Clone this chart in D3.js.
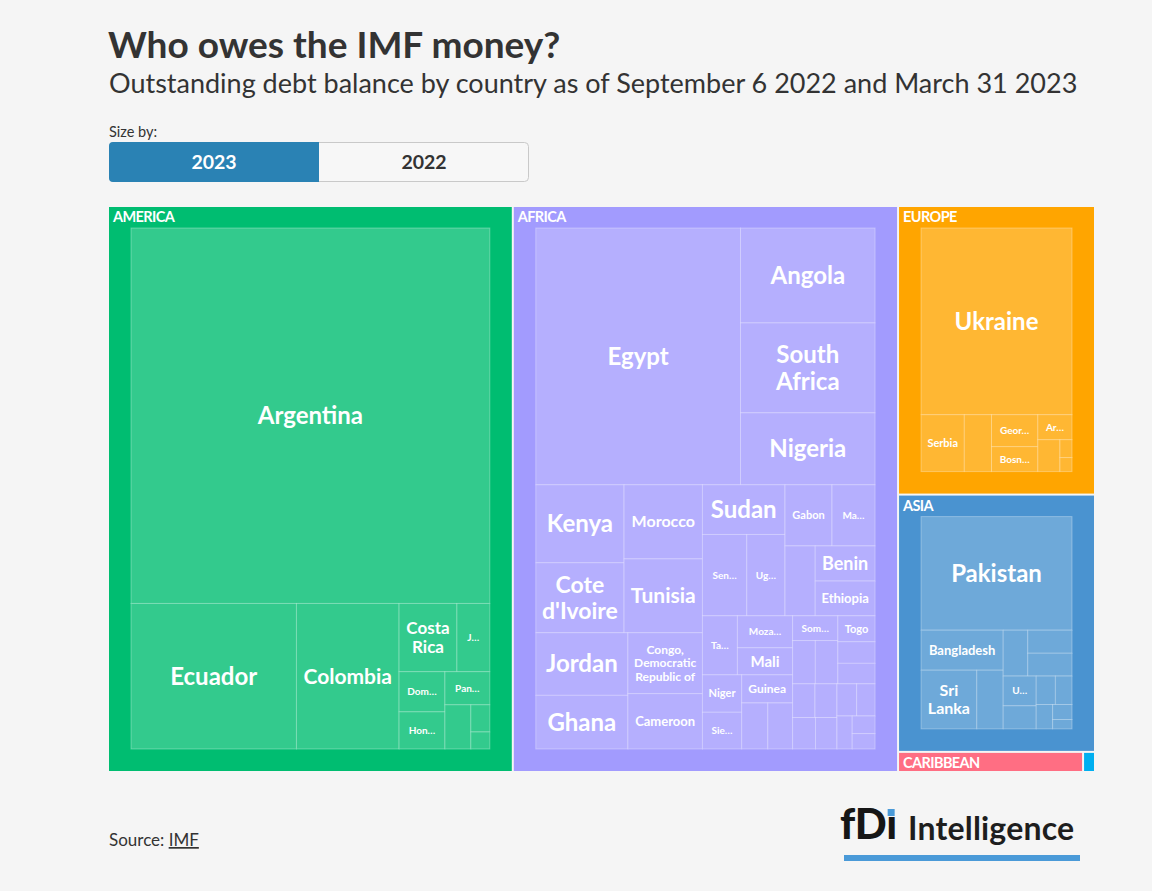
<!DOCTYPE html>
<html>
<head>
<meta charset="utf-8">
<script src="https://cdn.jsdelivr.net/npm/d3@7"></script>
<style>
  body { margin: 0; background: #f5f5f5; }
  svg { display: block; font-family: Lato, "Open Sans", sans-serif; }
</style>
</head>
<body>
<script>
// regions shown as the top level of the treemap
const regions = ["AMERICA", "AFRICA", "EUROPE", "ASIA", "CARIBBEAN", "OCEANIA"];

// outstanding credit, SDR billion, sized by 2023
const americaNames = ["Argentina", "Ecuador", "Colombia", "Costa Rica", "Jamaica", "Dominican Republic",
  "Honduras", "Panama", "El Salvador", "Suriname", "Nicaragua"];
const americaDebt = [31.63, 5.654, 3.508, 0.926, 0.527, 0.432, 0.400, 0.349, 0.269, 0.121, 0.076];

const africaNames = ["Egypt", "Angola", "South Africa", "Nigeria", "Kenya", "Cote d'Ivoire", "Morocco",
  "Tunisia", "Jordan", "Ghana", "Congo, Democratic Republic of", "Cameroon", "Sudan", "Senegal", "Uganda",
  "Gabon", "Madagascar", "Rwanda", "Benin", "Ethiopia", "Tanzania", "Mozambique", "Mali", "Niger",
  "Sierra Leone", "Guinea", "Burkina Faso", "Zambia", "Somalia", "Chad", "Liberia", "Togo",
  "Congo, Republic of", "Malawi", "Mauritania", "Central African Republic", "Burundi", "Gambia",
  "Guinea-Bissau", "South Sudan", "Sao Tome and Principe", "Comoros", "Lesotho"];
const africaDebt = [12.425, 3.017, 2.858, 2.287, 1.627, 1.460, 1.372, 1.367, 1.363, 1.168, 1.073, 0.975,
  0.970, 0.853, 0.735, 0.679, 0.622, 0.499, 0.497, 0.491, 0.488, 0.417, 0.353, 0.348, 0.341, 0.339,
  0.284, 0.270, 0.265, 0.232, 0.230, 0.228, 0.190, 0.180, 0.178, 0.175, 0.170, 0.160, 0.150, 0.140,
  0.119, 0.095, 0.083];

const europeNames = ["Ukraine", "Serbia", "Moldova", "Georgia", "Bosnia and Herzegovina", "Armenia",
  "North Macedonia", "Kosovo", "Albania"];
const europeDebt = [8.345, 0.729, 0.458, 0.438, 0.342, 0.253, 0.209, 0.064, 0.050];

const asiaNames = ["Pakistan", "Bangladesh", "Sri Lanka", "Nepal", "Myanmar", "Mongolia", "Afghanistan",
  "Uzbekistan", "Kyrgyz Republic", "Tajikistan", "Yemen", "Maldives", "Lao P.D.R.", "Bhutan"];
const asiaDebt = [5.196, 0.996, 0.990, 0.470, 0.341, 0.309, 0.306, 0.297, 0.231, 0.165, 0.143, 0.121,
  0.088, 0.055];

const caribbeanNames = ["Barbados", "Haiti", "Grenada", "Dominica", "St. Lucia",
  "St. Vincent and the Grenadines", "Antigua and Barbuda"];
const caribbeanDebt = [0.33, 0.16, 0.06, 0.05, 0.05, 0.04, 0.023];

const oceaniaNames = ["Papua New Guinea", "Solomon Islands", "Samoa"];
const oceaniaDebt = [0.03, 0.01, 0.006];

const years = ["2023", "2022"];

const table = {
  AMERICA: [americaNames, americaDebt],
  AFRICA: [africaNames, africaDebt],
  EUROPE: [europeNames, europeDebt],
  ASIA: [asiaNames, asiaDebt],
  CARIBBEAN: [caribbeanNames, caribbeanDebt],
  OCEANIA: [oceaniaNames, oceaniaDebt]
};

const color = d3.scaleOrdinal()
  .domain(regions)
  .range(["#00bd71", "#a29bfe", "#ffa500", "#4a93d0", "#ff6e83", "#00aff0"]);

const chart = { x: 109, y: 207, w: 985, h: 564 };

const svg = d3.select("body").append("svg")
  .attr("width", 1152)
  .attr("height", 891);

// header
svg.append("text")
  .attr("x", 108).attr("y", 58)
  .attr("font-size", 37).attr("font-weight", 700)
  .attr("fill", "#333")
  .text("Who owes the IMF money?");

svg.append("text")
  .attr("x", 109).attr("y", 93)
  .attr("font-size", 27)
  .attr("fill", "#333")
  .text("Outstanding debt balance by country as of September 6 2022 and March 31 2023");

svg.append("text")
  .attr("x", 109).attr("y", 137)
  .attr("font-size", 14.5)
  .attr("fill", "#333")
  .text("Size by:");

// size-by buttons
const btnW = 210;
svg.append("rect")
  .attr("x", 109.5).attr("y", 142.5)
  .attr("width", btnW * 2 - 1).attr("height", 39)
  .attr("rx", 4)
  .attr("fill", "#f7f7f7").attr("stroke", "#c9c9c9");

svg.append("rect")
  .attr("x", 109).attr("y", 142)
  .attr("width", btnW).attr("height", 40)
  .attr("rx", 4)
  .attr("fill", "#2a82b4");
svg.append("rect")
  .attr("x", 109 + btnW - 6).attr("y", 142)
  .attr("width", 6).attr("height", 40)
  .attr("fill", "#2a82b4");

svg.selectAll(".btn-label")
  .data(years)
  .enter().append("text")
  .attr("class", "btn-label")
  .attr("x", (d, i) => 109 + btnW * i + btnW / 2)
  .attr("y", 169)
  .attr("text-anchor", "middle")
  .attr("font-size", 19.5).attr("font-weight", 700)
  .attr("fill", (d, i) => i === 0 ? "#fff" : "#333")
  .text(d => d);

// treemap
const root = d3.hierarchy({
    name: "root",
    children: regions.map(r => ({
      name: r,
      children: table[r][0].map((n, i) => ({ name: n, value: table[r][1][i] }))
    }))
  })
  .sum(d => d.value)
  .sort((a, b) => b.value - a.value);

d3.treemap()
  .tile(d3.treemapBinary)
  .size([chart.w, chart.h])
  .paddingInner(d => d.depth === 0 ? 2 : 0)
  .paddingTop(d => d.depth === 1 ? 21 : 0)
  .paddingRight(d => d.depth === 1 ? 22 : 0)
  .paddingBottom(d => d.depth === 1 ? 22 : 0)
  .paddingLeft(d => d.depth === 1 ? 22 : 0)(root);

const g = svg.append("g")
  .attr("transform", "translate(" + chart.x + "," + chart.y + ")");

g.selectAll(".region")
  .data(root.children)
  .enter().append("rect")
  .attr("class", "region")
  .attr("x", d => d.x0)
  .attr("y", d => d.y0)
  .attr("width", d => d.x1 - d.x0)
  .attr("height", d => d.y1 - d.y0)
  .attr("fill", d => color(d.data.name));

const leaves = root.leaves().filter(d => d.x1 - d.x0 > 0.5 && d.y1 - d.y0 > 0.5);

g.selectAll(".cell")
  .data(leaves)
  .enter().append("rect")
  .attr("class", "cell")
  .attr("x", d => d.x0)
  .attr("y", d => d.y0)
  .attr("width", d => d.x1 - d.x0)
  .attr("height", d => d.y1 - d.y0)
  .attr("fill", d => d3.interpolateRgb(color(d.parent.data.name), "#fff")(0.2))
  .attr("stroke", "rgba(255,255,255,0.3)")
  .attr("stroke-width", 1);

g.selectAll(".region-label")
  .data(root.children.filter(d => d.x1 - d.x0 > 60))
  .enter().append("text")
  .attr("class", "region-label")
  .attr("x", d => d.x0 + 4)
  .attr("y", d => d.y0 + 15)
  .attr("font-size", 14.5).attr("font-weight", 700)
  .attr("letter-spacing", -0.6)
  .attr("fill", "#fff")
  .text(d => d.data.name);

// fit country labels into their cells
const measurer = svg.append("text")
  .attr("font-weight", 700)
  .attr("visibility", "hidden");

function textWidth(str, size) {
  measurer.attr("font-size", size).text(str);
  return measurer.node().getComputedTextLength();
}

const lineGap = 1.12;

function fitLabel(name, w, h) {
  if (w < 31 || h < 24) return null;
  const maxW = w - 12, maxH = h - 12;
  const words = name.split(" ");
  for (let s = 24; s >= 11; s--) {
    if (words.some(wd => textWidth(wd, s) > maxW)) continue;
    const lines = [];
    let line = words[0];
    for (let i = 1; i < words.length; i++) {
      const t = line + " " + words[i];
      if (textWidth(t, s) <= maxW) line = t;
      else { lines.push(line); line = words[i]; }
    }
    lines.push(line);
    if (s * (1 + lineGap * (lines.length - 1)) <= maxH) return { size: s, lines: lines };
  }
  let cut = name;
  while (cut.length > 1 && textWidth(cut + "…", 10) > w - 16) cut = cut.slice(0, -1);
  return { size: 10, lines: [cut.trim() + "…"] };
}

leaves.forEach(d => {
  const fit = fitLabel(d.data.name, d.x1 - d.x0, d.y1 - d.y0);
  if (!fit) return;
  const cx = (d.x0 + d.x1) / 2, cy = (d.y0 + d.y1) / 2;
  const n = fit.lines.length;
  g.append("text")
    .attr("class", "cell-label")
    .attr("text-anchor", "middle")
    .attr("font-size", fit.size).attr("font-weight", 700)
    .attr("fill", "#fff")
    .selectAll("tspan")
    .data(fit.lines)
    .enter().append("tspan")
    .attr("x", cx)
    .attr("y", (t, i) => cy + (i - (n - 1) / 2) * lineGap * fit.size)
    .attr("dy", "0.35em")
    .text(t => t);
});
measurer.remove();

// footer
const src = svg.append("text")
  .attr("x", 109).attr("y", 846)
  .attr("font-size", 17)
  .attr("fill", "#333");
src.append("tspan").text("Source: ");
src.append("tspan").attr("text-decoration", "underline").text("IMF");

// logo
const logo = svg.append("g");
const fd = logo.append("text")
  .attr("x", 840).attr("y", 839)
  .attr("font-size", 42).attr("font-weight", 900)
  .attr("letter-spacing", -0.5)
  .attr("fill", "#161616")
  .text("fD");
const fdW = fd.node().getComputedTextLength();
logo.append("text")
  .attr("x", 840 + fdW).attr("y", 839)
  .attr("font-size", 42).attr("font-weight", 900)
  .attr("fill", "#161616")
  .text("ı");
logo.append("rect")
  .attr("x", 840 + fdW + 1.5).attr("y", 809)
  .attr("width", 7).attr("height", 7)
  .attr("fill", "#4a9ad8");
logo.append("text")
  .attr("x", 908).attr("y", 840)
  .attr("font-size", 32).attr("font-weight", 700)
  .attr("letter-spacing", 0.2)
  .attr("fill", "#1e1e1e")
  .text("Intelligence");
logo.append("rect")
  .attr("x", 844).attr("y", 855)
  .attr("width", 236).attr("height", 6)
  .attr("fill", "#4a9ad8");
</script>
</body>
</html>
